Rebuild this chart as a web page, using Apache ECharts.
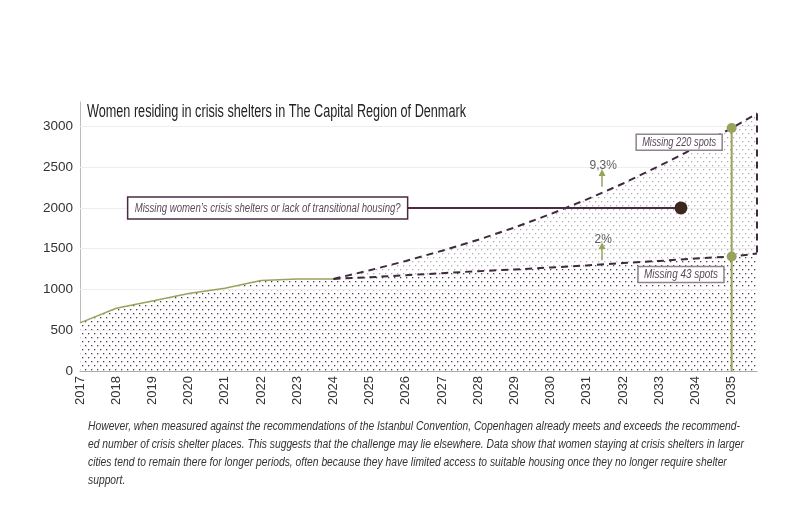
<!DOCTYPE html>
<html>
<head>
<meta charset="utf-8">
<script src="https://cdn.jsdelivr.net/npm/echarts@6/dist/echarts.min.js"></script>
<style>
  html, body { margin: 0; padding: 0; background: #fff; }
  #main { width: 804px; height: 509px; }
</style>
</head>
<body>
<div id="main"></div>
<script>
// historical counts
var histYears = [2017, 2018, 2019, 2020, 2021, 2022, 2023, 2024];
var histValues = [590, 770, 860, 950, 1015, 1110, 1130, 1130];

// projections from 2024 (last point is the right edge of the projection)
var projYears = [2024, 2025, 2026, 2027, 2028, 2029, 2030, 2031, 2032, 2033, 2034, 2035, 2035.7];
var upperValues = [1130, 1235, 1350, 1475, 1610, 1760, 1925, 2105, 2300, 2515, 2740, 2980, 3160];
var lowerValues = [1130, 1150, 1175, 1200, 1225, 1245, 1270, 1295, 1325, 1350, 1380, 1405, 1440];

var yTicks = [500, 1000, 1500, 2000, 2500, 3000];

var targetYear = 2035;
var targetUpper = 2980;
var targetLower = 1405;

var questionText = 'Missing women\u2019s crisis shelters or lack of transitional housing?';
var questionValue = 2000;
var questionFrom = 2026.05;
var questionTo = 2033.6;

var gapLabels = ['Missing 220 spots', 'Missing 43 spots'];
var gapLabelPos = [[2033.55, 2805], [2033.6, 1185]];

var rateLabels = ['9,3%', '2%'];
var rateLabelPos = [[2031.45, 2515], [2031.45, 1610]];
var rateArrows = [[2260, 2435], [1360, 1535]];
var rateArrowYear = 2031.42;

var titleText = 'Women residing in crisis shelters in The Capital Region of Denmark';
var noteLines = [
  'However, when measured against the recommendations of the Istanbul Convention, Copenhagen already meets and exceeds the recommend-',
  'ed number of crisis shelter places. This suggests that the challenge may lie elsewhere. Data show that women staying at crisis shelters in larger',
  'cities tend to remain there for longer periods, often because they have limited access to suitable housing once they no longer require shelter',
  'support.'
];

var FONT = '"Liberation Sans", Arial, sans-serif';
var GREEN = '#9aa35c';
var DASH = '#3d2a3d';
var BOXTEXT = '#5b4a5c';

function dotPattern(color) {
  var c = document.createElement('canvas');
  c.width = 6;
  c.height = 8;
  var ctx = c.getContext('2d');
  ctx.fillStyle = '#fff';
  ctx.fillRect(0, 0, 6, 8);
  ctx.fillStyle = color;
  ctx.fillRect(1, 1, 1.3, 1.3);
  ctx.fillRect(4, 5, 1.3, 1.3);
  return { image: c, repeat: 'repeat' };
}

function pairs(xs, ys) {
  var out = [];
  for (var i = 0; i < xs.length; i++) out.push([xs[i], ys[i]]);
  return out;
}

// the original uses a condensed face; squeeze regular text to the same width
var measureCtx = document.createElement('canvas').getContext('2d');
function textWidth(text, size, italic) {
  measureCtx.font = (italic ? 'italic ' : '') + size + 'px "Liberation Sans", Arial, sans-serif';
  return measureCtx.measureText(text).width;
}

function squeezedText(text, x, y, size, italic, color, scale) {
  return {
    type: 'text',
    x: x,
    y: y,
    scaleX: scale,
    z: 100,
    style: {
      text: text,
      fontFamily: FONT,
      fontSize: size,
      fontStyle: italic ? 'italic' : 'normal',
      fill: color,
      align: 'left',
      verticalAlign: 'middle'
    }
  };
}

function boxGraphic(cx, cy, w, h, text, border, textW, size) {
  var s = textW / textWidth(text, size, true);
  return [
    {
      type: 'rect',
      shape: { x: cx - w / 2, y: cy - h / 2, width: w, height: h },
      style: { fill: '#fff', stroke: border, lineWidth: 1.5 },
      z: 99
    },
    squeezedText(text, cx - textW / 2, cy + 0.5, size, true, BOXTEXT, s)
  ];
}

var histData = pairs(histYears, histValues);
var upperData = pairs(projYears, upperValues);
var lowerData = pairs(projYears, lowerValues);
var lastIdx = projYears.length - 1;

var chart = echarts.init(document.getElementById('main'));

chart.setOption({
  animation: false,
  grid: { left: 80, right: 47, top: 102, bottom: 138 },
  xAxis: {
    type: 'value',
    min: 2017,
    max: 2035.7,
    interval: 1,
    axisLine: { lineStyle: { color: '#aaa' } },
    axisTick: { show: false },
    splitLine: { show: false },
    axisLabel: {
      rotate: 90,
      fontFamily: FONT,
      fontSize: 13,
      color: '#333',
      margin: 5,
      formatter: function (v) { return v % 1 === 0 ? String(v) : ''; }
    }
  },
  yAxis: {
    type: 'value',
    min: 0,
    max: 3300,
    interval: 500,
    axisLine: { show: true, lineStyle: { color: '#bbb' } },
    axisTick: { show: false },
    splitLine: { show: false },
    axisLabel: {
      fontFamily: FONT,
      fontSize: 13.5,
      color: '#333',
      margin: 7,
      formatter: function (v) { return v % 500 === 0 ? String(v) : ''; }
    }
  },
  series: [
    {
      // light band up to the 9.3% projection, also carries the grid lines
      type: 'line',
      data: histData.concat(upperData.slice(1)),
      symbol: 'none',
      lineStyle: { width: 0 },
      areaStyle: { color: dotPattern('#b3a8b3'), opacity: 1 },
      z: 1,
      markLine: {
        silent: true,
        symbol: 'none',
        label: { show: false },
        lineStyle: { color: '#eeeeee', width: 1, type: 'solid' },
        data: yTicks.map(function (v) { return { yAxis: v }; })
      }
    },
    {
      // dense area up to the 2% projection
      type: 'line',
      data: histData.concat(lowerData.slice(1)),
      symbol: 'none',
      lineStyle: { width: 0 },
      areaStyle: { color: dotPattern('#4d3a4d'), opacity: 1 },
      z: 2
    },
    {
      type: 'line',
      data: histData,
      symbol: 'none',
      lineStyle: { color: GREEN, width: 1.5 },
      z: 5
    },
    {
      type: 'line',
      data: upperData,
      symbol: 'none',
      lineStyle: { color: DASH, width: 2, type: [7, 5] },
      z: 5
    },
    {
      type: 'line',
      data: lowerData,
      symbol: 'none',
      lineStyle: { color: DASH, width: 2, type: [7, 5] },
      z: 5
    },
    {
      // closing edge of the projection band
      type: 'line',
      data: [[projYears[lastIdx], upperValues[lastIdx]], [projYears[lastIdx], lowerValues[lastIdx]]],
      symbol: 'none',
      lineStyle: { color: DASH, width: 2, type: [7, 5] },
      z: 5
    },
    {
      // target year marker
      type: 'line',
      data: [[targetYear, 0], [targetYear, targetUpper]],
      symbol: 'none',
      lineStyle: { color: GREEN, width: 2 },
      z: 6
    },
    {
      type: 'scatter',
      data: [[targetYear, targetUpper], [targetYear, targetLower]],
      symbolSize: 10,
      itemStyle: { color: GREEN, opacity: 1 },
      z: 7
    },
    {
      // question line
      type: 'line',
      data: [[questionFrom, questionValue], [questionTo, questionValue]],
      symbol: 'none',
      lineStyle: { color: '#4a2a45', width: 2 },
      z: 6
    },
    {
      type: 'scatter',
      data: [[questionTo, questionValue]],
      symbolSize: 13,
      itemStyle: { color: '#3b2620', opacity: 1 },
      z: 7
    },
    {
      type: 'scatter',
      data: [
        { value: rateLabelPos[0], label: { formatter: rateLabels[0] } },
        { value: rateLabelPos[1], label: { formatter: rateLabels[1] } }
      ],
      symbolSize: 0,
      label: { show: true, position: 'inside', fontFamily: FONT, fontSize: 12, color: '#333' },
      z: 8,
      markLine: {
        silent: true,
        symbol: ['none', 'triangle'],
        symbolSize: [7, 7],
        lineStyle: { color: GREEN, width: 1.5, type: 'solid' },
        label: { show: false },
        data: [
          [{ coord: [rateArrowYear, rateArrows[0][0]] }, { coord: [rateArrowYear, rateArrows[0][1]] }],
          [{ coord: [rateArrowYear, rateArrows[1][0]] }, { coord: [rateArrowYear, rateArrows[1][1]] }]
        ]
      }
    }
  ]
});

// annotation boxes and texts, placed from data coordinates
var toPx = function (pt) { return chart.convertToPixel({ gridIndex: 0 }, pt); };
var qPx = toPx([questionFrom, questionValue]);
var g1 = toPx(gapLabelPos[0]);
var g2 = toPx(gapLabelPos[1]);

var graphics = [];
graphics = graphics.concat(boxGraphic(qPx[0] - 140, qPx[1], 280, 22, questionText, '#4a2a45', 266, 12.5));
graphics = graphics.concat(boxGraphic(g1[0], g1[1], 86, 16, gapLabels[0], '#8f838e', 74, 12.5));
graphics = graphics.concat(boxGraphic(g2[0], g2[1], 86, 16, gapLabels[1], '#8f838e', 74, 12.5));

var titleSize = 17.5;
graphics.push(squeezedText(titleText, 87, 112, titleSize, false, '#222', 379 / textWidth(titleText, titleSize, false)));

var noteSize = 12.5;
var noteScale = 652 / textWidth(noteLines[0], noteSize, true);
for (var i = 0; i < noteLines.length; i++) {
  graphics.push(squeezedText(noteLines[i], 88, 427 + i * 18, noteSize, true, '#333', noteScale));
}

chart.setOption({ graphic: graphics });
</script>
</body>
</html>
